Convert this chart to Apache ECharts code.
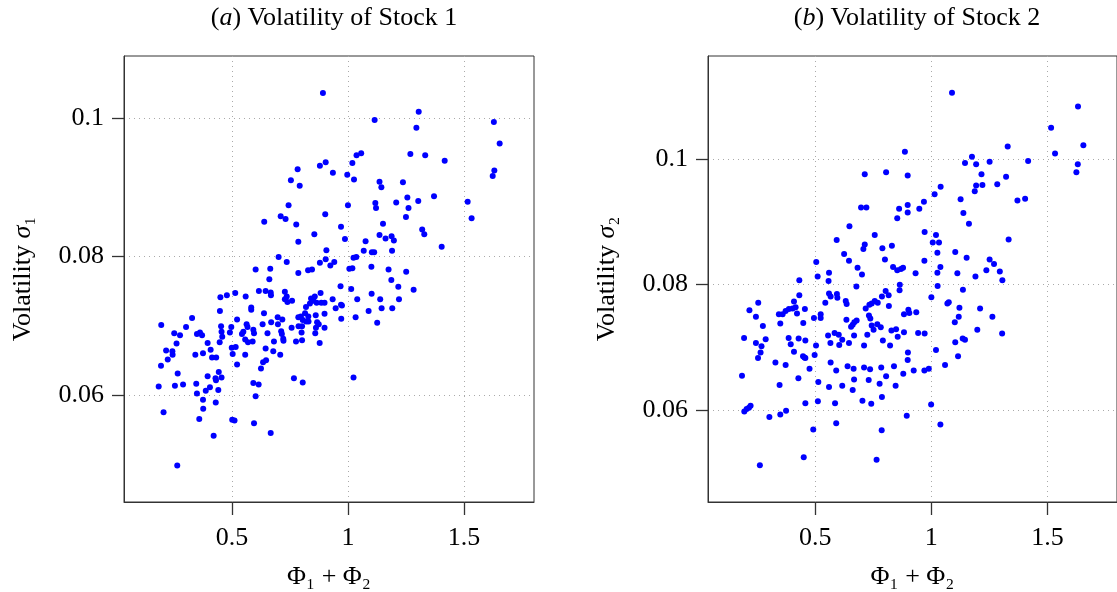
<!DOCTYPE html>
<html>
<head>
<meta charset="utf-8">
<script src="https://cdn.jsdelivr.net/npm/echarts@6/dist/echarts.min.js"></script>
<style>
html, body { margin: 0; padding: 0; background: #fff; }
#chart { width: 1117px; height: 592px; }
</style>
</head>
<body>
<div id="chart"></div>
<script>
// stock 1 : x = Phi1 + Phi2, y = volatility sigma1
var s1x = [0.892,0.904,0.879,0.783,0.754,0.792,0.744,0.902,0.710,0.731,0.639,0.777,0.855,0.786,0.907,0.701,0.736,0.904,0.879,0.924,0.602,0.665,0.786,0.828,0.845,0.661,
1.305,1.115,1.295,1.629,1.654,1.037,1.057,1.019,1.269,1.333,1.417,0.935,0.997,1.026,1.631,1.624,1.136,1.144,1.237,1.256,1.371,1.118,1.121,1.208,1.261,1.303,1.000,1.516,1.533,1.250,1.151,0.970,0.987,1.320,1.329,1.136,1.162,1.188,1.198,1.076,1.404,1.068,1.103,1.113,1.190,1.024,1.036,0.941,1.006,1.019,1.101,1.175,1.251,1.187,
0.616,0.645,0.667,0.668,0.450,0.478,0.514,0.559,0.728,0.736,0.728,0.739,0.759,0.819,0.836,0.851,0.865,0.841,0.857,0.882,0.885,0.899,0.448,0.583,0.583,0.638,0.328,0.195,0.251,0.276,0.302,0.349,0.362,0.371,0.395,0.216,0.243,0.244,0.223,0.194,0.261,0.342,0.375,0.408,0.414,0.432,0.453,0.455,0.458,0.447,0.491,0.497,0.522,0.499,0.516,0.503,0.522,0.557,0.549,0.543,0.563,0.567,0.557,0.569,0.589,0.592,0.595,0.632,0.653,0.669,0.697,0.717,0.698,0.712,0.715,0.721,0.722,0.681,0.645,0.678,0.708,0.647,0.634,0.625,0.757,0.786,0.797,0.805,0.815,0.829,0.820,0.830,0.787,0.802,0.800,0.776,0.802,0.861,0.899,0.867,0.874,0.862,0.899,0.859,0.878,0.266,0.184,0.254,0.289,0.346,0.349,0.395,0.387,0.405,0.429,0.431,0.455,0.443,0.441,0.375,0.376,0.430,0.205,0.359,0.421,0.264,0.501,0.511,0.592,0.615,0.602,0.595,0.667,0.767,0.805,
0.968,1.014,0.934,0.947,0.970,0.974,0.971,1.040,1.033,1.102,1.089,1.139,1.145,1.126,1.217,1.220,1.191,1.283,1.024];
var s1y = [0.1036,0.0936,0.0931,0.0926,0.0910,0.0902,0.0874,0.0861,0.0858,0.0854,0.0850,0.0846,0.0832,0.0821,0.0809,0.0799,0.0792,0.0796,0.0791,0.0787,0.0781,0.0782,0.0776,0.0780,0.0781,0.0767,
0.1009,0.0997,0.0986,0.0994,0.0963,0.0946,0.0949,0.0935,0.0948,0.0946,0.0938,0.0921,0.0918,0.0911,0.0924,0.0916,0.0908,0.0900,0.0907,0.0885,0.0887,0.0877,0.0870,0.0878,0.0870,0.0880,0.0874,0.0879,0.0855,0.0857,0.0847,0.0843,0.0825,0.0839,0.0832,0.0831,0.0826,0.0829,0.0823,0.0822,0.0814,0.0808,0.0806,0.0806,0.0808,0.0798,0.0799,0.0792,0.0782,0.0783,0.0785,0.0781,0.0778,0.0766,
0.0750,0.0750,0.0748,0.0744,0.0741,0.0744,0.0747,0.0742,0.0749,0.0742,0.0738,0.0734,0.0736,0.0727,0.0732,0.0736,0.0733,0.0739,0.0742,0.0747,0.0733,0.0733,0.0721,0.0726,0.0723,0.0718,0.0711,0.0701,0.0689,0.0686,0.0698,0.0688,0.0690,0.0686,0.0675,0.0664,0.0663,0.0658,0.0651,0.0642,0.0674,0.0658,0.0660,0.0665,0.0654,0.0654,0.0699,0.0691,0.0684,0.0676,0.0690,0.0698,0.0709,0.0668,0.0669,0.0659,0.0644,0.0658,0.0691,0.0688,0.0702,0.0698,0.0680,0.0676,0.0677,0.0694,0.0689,0.0702,0.0689,0.0705,0.0712,0.0709,0.0702,0.0692,0.0688,0.0681,0.0678,0.0677,0.0667,0.0663,0.0658,0.0650,0.0647,0.0638,0.0697,0.0712,0.0713,0.0708,0.0718,0.0713,0.0706,0.0706,0.0699,0.0699,0.0690,0.0677,0.0679,0.0715,0.0717,0.0705,0.0702,0.0697,0.0697,0.0689,0.0675,0.0631,0.0612,0.0613,0.0615,0.0616,0.0602,0.0627,0.0606,0.0611,0.0624,0.0621,0.0625,0.0633,0.0607,0.0593,0.0580,0.0589,0.0575,0.0565,0.0541,0.0498,0.0564,0.0563,0.0617,0.0615,0.0598,0.0559,0.0545,0.0624,0.0618,
0.0757,0.0753,0.0738,0.0725,0.0730,0.0729,0.0710,0.0738,0.0712,0.0746,0.0721,0.0738,0.0725,0.0704,0.0756,0.0738,0.0725,0.0752,0.0625];

// stock 2 : x = Phi1 + Phi2, y = volatility sigma2
var s2x = [0.886,0.713,0.805,0.898,0.697,0.720,0.861,0.853,0.898,0.898,0.647,0.756,0.592,0.713,0.707,0.789,0.830,0.624,0.645,0.800,0.504,0.682,0.701,0.835,0.853,0.869,0.878,0.559,0.510,0.431,0.557,
1.089,1.632,1.516,1.655,1.533,1.329,1.175,1.145,1.193,1.251,1.417,1.631,1.625,1.216,1.322,1.193,1.187,1.220,1.284,1.040,1.014,1.126,1.371,1.404,0.968,0.948,1.138,1.162,0.971,1.020,1.006,1.033,1.333,1.026,1.103,1.152,0.970,1.251,1.270,1.039,1.026,0.932,1.112,1.237,1.295,1.190,1.306,
0.677,0.864,0.863,0.431,0.559,0.566,0.593,0.595,0.543,0.631,0.635,0.803,0.787,0.816,0.717,0.733,0.743,0.756,0.769,0.817,0.408,0.254,0.216,0.244,0.343,0.359,0.372,0.386,0.402,0.415,0.421,0.455,0.349,0.274,0.448,0.494,0.523,0.523,0.634,0.661,0.668,0.678,0.654,0.731,0.737,0.743,0.751,0.767,0.782,0.882,0.828,0.848,0.882,0.193,0.244,0.268,0.264,0.253,0.286,0.385,0.394,0.428,0.457,0.408,0.328,0.372,0.447,0.453,0.457,0.497,0.503,0.555,0.565,0.583,0.601,0.616,0.603,0.645,0.667,0.710,0.724,0.791,0.822,0.855,0.899,0.475,0.566,0.590,0.639,0.665,0.710,0.736,0.784,0.839,0.879,0.898,0.184,0.427,0.346,0.513,0.559,0.616,0.667,0.661,0.730,0.777,0.805,0.846,0.787,0.703,0.741,0.457,0.511,0.585,0.221,0.214,0.204,0.194,0.374,0.349,0.302,0.590,0.491,0.786,0.450,0.764,0.261,0.894,
0.901,0.905,0.935,1.027,1.136,1.000,1.069,1.075,1.121,1.118,1.101,1.210,1.263,1.198,1.305,0.943,0.971,1.103,1.135,1.145,1.020,1.115,1.059,0.924,0.970,0.989,0.999,1.039];
var s2y = [0.1012,0.0976,0.0979,0.0974,0.0923,0.0923,0.0921,0.0906,0.0927,0.0915,0.0893,0.0879,0.0871,0.0864,0.0857,0.0858,0.0862,0.0849,0.0838,0.0840,0.0836,0.0827,0.0816,0.0828,0.0823,0.0825,0.0827,0.0819,0.0813,0.0807,0.0806,
0.1106,0.1084,0.1050,0.1022,0.1009,0.1020,0.1004,0.0994,0.0992,0.0996,0.0997,0.0992,0.0979,0.0976,0.0972,0.0958,0.0949,0.0959,0.0960,0.0956,0.0944,0.0936,0.0934,0.0937,0.0932,0.0921,0.0914,0.0897,0.0884,0.0879,0.0867,0.0867,0.0872,0.0851,0.0852,0.0843,0.0838,0.0840,0.0833,0.0828,0.0819,0.0818,0.0818,0.0823,0.0821,0.0813,0.0807,
0.0797,0.0800,0.0791,0.0783,0.0786,0.0781,0.0785,0.0779,0.0771,0.0774,0.0769,0.0790,0.0781,0.0783,0.0762,0.0768,0.0770,0.0774,0.0771,0.0766,0.0773,0.0771,0.0759,0.0749,0.0753,0.0753,0.0758,0.0761,0.0762,0.0764,0.0754,0.0761,0.0738,0.0734,0.0739,0.0747,0.0753,0.0747,0.0744,0.0736,0.0740,0.0743,0.0733,0.0751,0.0746,0.0735,0.0728,0.0737,0.0732,0.0753,0.0727,0.0729,0.0724,0.0715,0.0707,0.0702,0.0692,0.0683,0.0713,0.0715,0.0705,0.0714,0.0711,0.0693,0.0676,0.0672,0.0686,0.0684,0.0683,0.0688,0.0703,0.0719,0.0707,0.0723,0.0720,0.0712,0.0704,0.0707,0.0719,0.0703,0.0720,0.0711,0.0703,0.0717,0.0692,0.0666,0.0676,0.0663,0.0670,0.0666,0.0668,0.0665,0.0668,0.0670,0.0658,0.0680,0.0655,0.0651,0.0640,0.0645,0.0637,0.0639,0.0649,0.0632,0.0648,0.0642,0.0654,0.0639,0.0621,0.0615,0.0610,0.0611,0.0614,0.0611,0.0607,0.0604,0.0602,0.0598,0.0599,0.0593,0.0589,0.0579,0.0569,0.0568,0.0525,0.0521,0.0512,0.0591,
0.0760,0.0755,0.0756,0.0798,0.0792,0.0780,0.0770,0.0772,0.0763,0.0749,0.0740,0.0762,0.0749,0.0728,0.0722,0.0723,0.0722,0.0708,0.0714,0.0712,0.0696,0.0686,0.0672,0.0663,0.0663,0.0666,0.0609,0.0577];

var xTicks = [0.5, 1, 1.5];
var yTicks = [0.06, 0.08, 0.1];
var titles = ['Volatility of Stock 1', 'Volatility of Stock 2'];

var chart = echarts.init(document.getElementById('chart'));
var serif = "'Liberation Serif', 'DejaVu Serif', serif";
var fs = 26;

function pairs(xs, ys) {
    return xs.map(function (x, i) { return [x, ys[i]]; });
}

function xAxisOf(idx, min, max) {
    return {
        gridIndex: idx, type: 'value', min: min, max: max,
        name: 'Φ₁ + Φ₂', nameLocation: 'middle', nameGap: 62,
        nameTextStyle: { fontFamily: serif, fontSize: fs, color: '#000' },
        axisLine: { show: true, onZero: false, lineStyle: { color: '#333', width: 1 } },
        axisTick: { show: true, inside: false, length: 13, customValues: xTicks, lineStyle: { color: '#333', width: 1.3 } },
        axisLabel: { customValues: xTicks, margin: 23, fontFamily: serif, fontSize: fs, color: '#000',
            formatter: function (v) { return String(+v.toFixed(2)); } },
        splitLine: { show: true, lineStyle: { color: '#aaa', type: [1, 4], width: 1 } }
    };
}

function yAxisOf(idx, min, max, sub) {
    return {
        gridIndex: idx, type: 'value', min: min, max: max,
        name: '{n|Volatility }{i|σ}{n|' + sub + '}', nameLocation: 'middle', nameGap: 88,
        nameTextStyle: { fontFamily: serif, fontSize: fs, color: '#000',
            rich: { n: { fontFamily: serif, fontSize: fs }, i: { fontFamily: serif, fontSize: fs, fontStyle: 'italic' } } },
        axisLine: { show: true, onZero: false, lineStyle: { color: '#333', width: 1 } },
        axisTick: { show: true, inside: false, length: 12, customValues: yTicks, lineStyle: { color: '#333', width: 1.3 } },
        axisLabel: { customValues: yTicks, margin: 20, fontFamily: serif, fontSize: fs, color: '#000',
            formatter: function (v) { return String(+v.toFixed(3)); } },
        splitLine: { show: true, lineStyle: { color: '#aaa', type: [1, 4], width: 1 } }
    };
}

function titleOf(letter, text, cx) {
    return {
        text: '({i|' + letter + '}) ' + text, left: cx, top: 0, textAlign: 'center',
        textStyle: { fontFamily: serif, fontSize: fs, fontWeight: 'normal', color: '#000',
            rich: { i: { fontFamily: serif, fontSize: fs, fontStyle: 'italic' } } }
    };
}

function gridOf(left, width) {
    return { left: left, top: 56, width: width, height: 446, show: true,
        borderColor: '#333', borderWidth: 1, containLabel: false, outerBoundsMode: 'none' };
}

chart.setOption({
    animation: false,
    backgroundColor: '#fff',
    title: [titleOf('a', titles[0], 329), titleOf('b', titles[1], 912)],
    grid: [gridOf(124, 410), gridOf(708, 409)],
    xAxis: [xAxisOf(0, 0.0345, 1.802), xAxisOf(1, 0.0375, 1.800)],
    yAxis: [yAxisOf(0, 0.04452, 0.10895, '₁'), yAxisOf(1, 0.04536, 0.11644, '₂')],
    series: [
        { type: 'scatter', xAxisIndex: 0, yAxisIndex: 0, symbolSize: 6,
          itemStyle: { color: '#0000ff', opacity: 1 }, data: pairs(s1x, s1y) },
        { type: 'scatter', xAxisIndex: 1, yAxisIndex: 1, symbolSize: 6,
          itemStyle: { color: '#0000ff', opacity: 1 }, data: pairs(s2x, s2y) }
    ]
});
</script>
</body>
</html>
